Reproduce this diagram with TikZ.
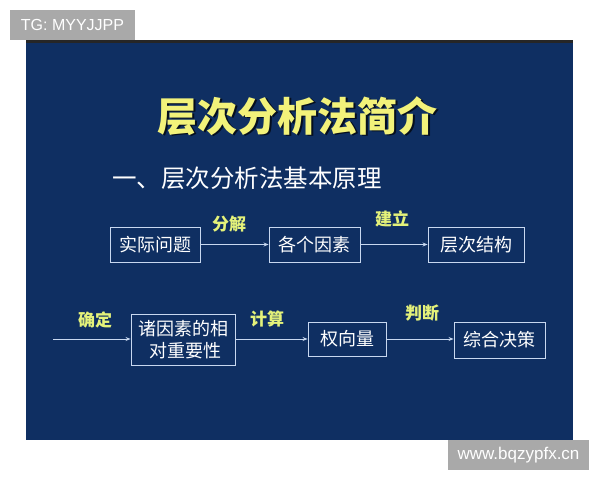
\documentclass[tikz,border=0pt]{standalone}
\usepackage{fontspec}
\setmainfont{Liberation Sans}
\newfontfamily\cjk{Noto Sans CJK SC}
\newfontfamily\cjkb{Noto Sans CJK SC Black}
\usetikzlibrary{arrows.meta}
\definecolor{slide}{HTML}{0F2F62}
\definecolor{wm}{HTML}{A9A9A9}
\definecolor{lab}{HTML}{E4F27A}
\definecolor{ttl}{HTML}{F2F27A}
\definecolor{edge}{HTML}{C8D8F0}
\tikzset{
  pbox/.style={draw=edge, line width=0.9pt, text=white, font=\cjk\fontsize{18}{22}\selectfont, inner sep=0pt, align=center},
  lbl/.style={text=lab, font=\cjk\bfseries\fontsize{17}{19}\selectfont, inner sep=0pt},
  conn/.style={draw=edge, line width=0.8pt, -{Stealth[length=5pt,width=4pt]}},
  wmbox/.style={fill=wm, text=white, inner sep=0pt}
}
\begin{document}
\begin{tikzpicture}[x=1pt,y=-1pt]
\useasboundingbox (0,0) rectangle (600,480);
\fill[white] (0,0) rectangle (600,480);
% slide
\fill[slide] (26,40) rectangle (573,440);
\fill[black!85] (26,40) rectangle (573,43);
% watermarks
\node[wmbox, minimum width=125pt, minimum height=30pt, font=\fontsize{16}{18}\selectfont] (wm1) at (72.5,25) {TG: MYYJJPP};
\node[wmbox, minimum width=141pt, minimum height=30pt, font=\fontsize{17}{19}\selectfont] (wm2) at (518.5,455) {www.bqzypfx.cn};
% title
\node[text=black!70!slide, font=\cjkb\fontsize{40}{46}\selectfont] at (299,117.5) {层次分析法简介};
\node[text=ttl, font=\cjkb\fontsize{40}{46}\selectfont] (title) at (297.5,116) {层次分析法简介};
\node[text=white, font=\cjk\fontsize{24.5}{28}\selectfont, anchor=west, inner sep=0pt] (sub) at (112,178) {一、层次分析法基本原理};
% row 1
\node[pbox, minimum width=90pt, minimum height=35pt] (a1) at (155,244.5) {实际问题};
\node[pbox, minimum width=91pt, minimum height=35pt] (a2) at (314.5,244.5) {各个因素};
\node[pbox, minimum width=96pt, minimum height=35pt] (a3) at (476,244.5) {层次结构};
\draw[conn] (a1) -- (a2);
\draw[conn] (a2) -- (a3);
\node[lbl] (l1) at (229,224) {分解};
\node[lbl] (l2) at (392,219) {建立};
% row 2
\coordinate (s) at (53,339);
\node[pbox, minimum width=104pt, minimum height=51pt] (b1) at (183,339.5) {诸因素的相\\\ 对重要性};
\node[pbox, minimum width=78pt, minimum height=34pt] (b2) at (347,339) {权向量};
\node[pbox, minimum width=91pt, minimum height=36pt] (b3) at (499.5,340) {综合决策};
\draw[conn] (s) -- (b1.west |- s);
\draw[conn] (b1.east |- b2) -- (b2);
\draw[conn] (b2) -- (b3.west |- b2);
\node[lbl] (l3) at (95,320) {确定};
\node[lbl] (l4) at (267,319) {计算};
\node[lbl] (l5) at (422,313) {判断};
\end{tikzpicture}
\end{document}
